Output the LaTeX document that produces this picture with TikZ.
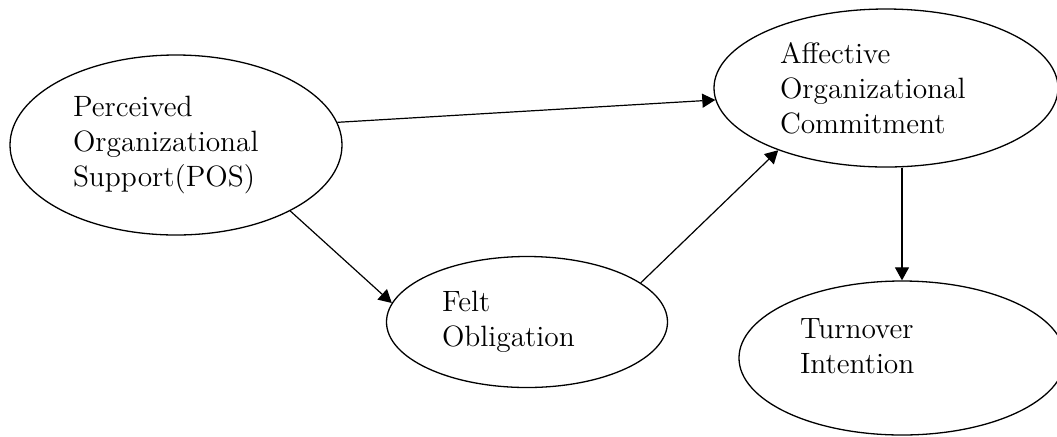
\documentclass[tikz,border=0pt]{standalone}
\usetikzlibrary{arrows.meta,shapes.geometric}
\begin{document}
\begin{tikzpicture}[x=0.5pt,y=-0.5pt,
        var/.style={ellipse, draw, line width=0.65pt, inner sep=0pt,
                        align=left, font=\fontsize{14.7}{17.5}\selectfont},
        arr/.style={-{Triangle[length=6.5pt,width=7pt]}, line width=0.6pt}]
    \useasboundingbox (0,0) rectangle (1057,436);

    % variables
    \node[var, minimum width=166pt, minimum height=90pt, text width=103pt]
        (pos) at (176,145) {Perceived\\Organizational\\Support(POS)};
    \node[var, minimum width=172pt, minimum height=79pt, text width=106pt]
        (aoc) at (886,88) {Affective\\Organizational\\Commitment};
    \node[var, minimum width=140.5pt, minimum height=65.5pt, text width=85pt]
        (fo) at (527,322) {Felt\\Obligation};
    \node[var, minimum width=163pt, minimum height=77pt, text width=102pt]
        (ti) at (902,358) {Turnover\\Intention\vspace{12pt}};

    % paths
    \draw[arr] (pos.8) -- (aoc.184);
    \draw[arr] (pos.-30) -- (fo.172);
    \draw[arr] (fo.19) -- (aoc.210);
    \draw[arr] (aoc.south -| ti.north) -- (ti.north);
\end{tikzpicture}
\end{document}
